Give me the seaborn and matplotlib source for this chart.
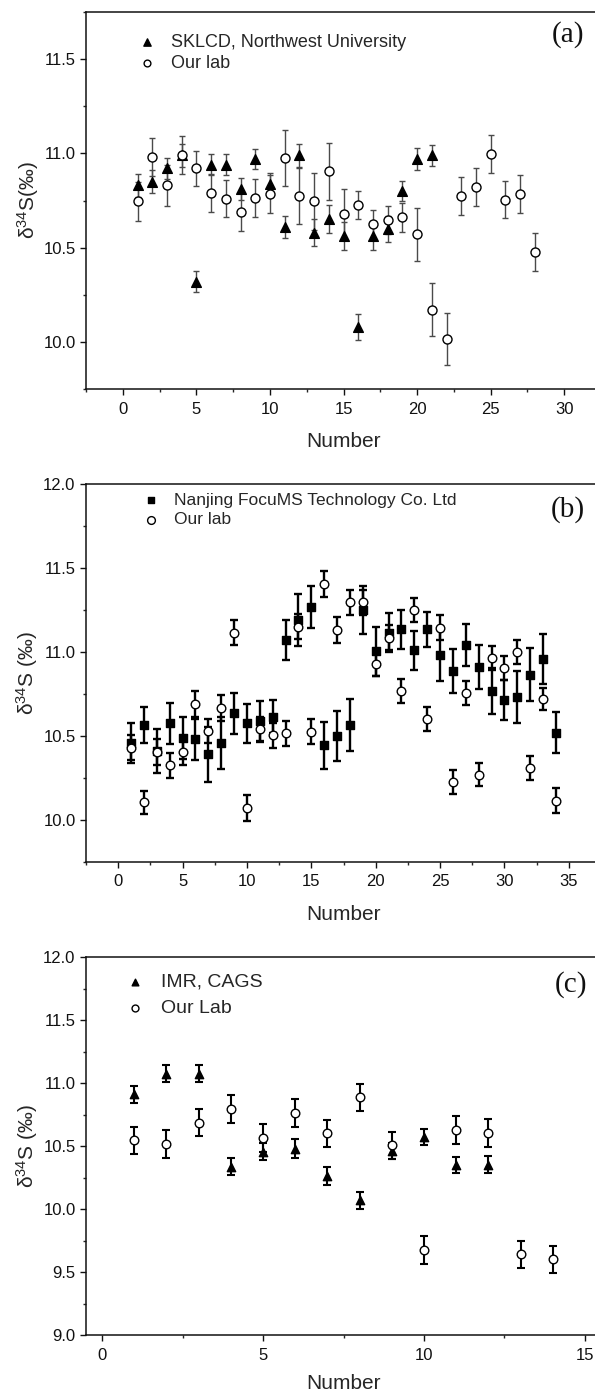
import matplotlib
matplotlib.use("Agg")
import matplotlib.pyplot as plt
import seaborn as sns
from matplotlib.ticker import MultipleLocator

# -----------------------------
# Data
# -----------------------------

# (a) SKLCD, Northwest University vs our lab
a_sk_num = list(range(1, 22))
a_sk_val = [10.83, 10.85, 10.92, 10.99, 10.32, 10.94, 10.94, 10.81, 10.97, 10.84, 10.61,
            10.99, 10.58, 10.65, 10.56, 10.08, 10.56, 10.60, 10.80, 10.97, 10.99]
a_sk_err = [0.06, 0.06, 0.055, 0.06, 0.055, 0.055, 0.055, 0.057, 0.055, 0.057, 0.057,
            0.06, 0.07, 0.075, 0.075, 0.07, 0.07, 0.07, 0.055, 0.06, 0.057]
a_our_num = list(range(1, 29))
a_our_val = [10.745, 10.98, 10.83, 10.99, 10.92, 10.79, 10.76, 10.69, 10.765, 10.785,
             10.975, 10.775, 10.745, 10.905, 10.68, 10.725, 10.625, 10.645, 10.66, 10.57,
             10.17, 10.015, 10.775, 10.82, 10.995, 10.755, 10.785, 10.475]
a_our_err = [0.105, 0.1, 0.11, 0.1, 0.095, 0.1, 0.1, 0.1, 0.1, 0.1, 0.147, 0.15, 0.15, 0.15,
             0.13, 0.075, 0.075, 0.075, 0.075, 0.14, 0.14, 0.14, 0.1, 0.1, 0.1, 0.1, 0.1, 0.1]

# (b) Nanjing FocuMS Technology Co. Ltd vs our lab
b_nj_num = list(range(1, 35))
b_nj_val = [10.46, 10.565, 10.41, 10.575, 10.49, 10.48, 10.39, 10.46, 10.635, 10.575,
            10.59, 10.615, 11.07, 11.19, 11.27, 10.445, 10.50, 10.565, 11.25, 11.005,
            11.115, 11.135, 11.01, 11.135, 10.985, 10.885, 11.04, 10.91, 10.765, 10.715,
            10.73, 10.865, 10.96, 10.52]
b_nj_err = [0.12, 0.105, 0.13, 0.12, 0.125, 0.12, 0.165, 0.155, 0.123, 0.117, 0.117, 0.1,
            0.12, 0.155, 0.125, 0.14, 0.15, 0.153, 0.14, 0.145, 0.115, 0.115, 0.116, 0.103,
            0.155, 0.13, 0.125, 0.13, 0.137, 0.117, 0.155, 0.157, 0.15, 0.12]
b_our_num = list(range(1, 35))
b_our_val = [10.43, 10.105, 10.405, 10.325, 10.405, 10.69, 10.53, 10.665, 11.115, 10.07,
             10.54, 10.505, 10.515, 11.15, 10.525, 11.405, 11.13, 11.295, 11.295, 10.93,
             11.085, 10.77, 11.25, 10.60, 11.145, 10.225, 10.755, 10.27, 10.965, 10.905,
             11.0, 10.31, 10.72, 10.115]
b_our_err = [0.075, 0.07, 0.075, 0.075, 0.075, 0.075, 0.07, 0.077, 0.075, 0.077, 0.075,
             0.075, 0.075, 0.075, 0.075, 0.077, 0.077, 0.072, 0.075, 0.07, 0.075, 0.072,
             0.073, 0.072, 0.073, 0.073, 0.07, 0.07, 0.073, 0.073, 0.07, 0.073, 0.067, 0.073]

# (c) IMR, CAGS vs our lab
c_imr_num = list(range(1, 13))
c_imr_val = [10.91, 11.075, 11.075, 10.335, 10.455, 10.48, 10.26, 10.07, 10.46, 10.57,
             10.35, 10.35]
c_imr_err = [0.068, 0.068, 0.068, 0.068, 0.065, 0.075, 0.07, 0.068, 0.06, 0.066, 0.062, 0.068]
c_our_num = list(range(1, 15))
c_our_val = [10.545, 10.515, 10.685, 10.795, 10.565, 10.76, 10.60, 10.885, 10.505, 9.675,
             10.625, 10.605, 9.64, 9.60]
c_our_err = [0.108, 0.11, 0.108, 0.11, 0.11, 0.11, 0.11, 0.11, 0.11, 0.11, 0.11, 0.11,
             0.11, 0.11]

# -----------------------------
# Style
# -----------------------------
sns.set_theme(style="ticks")
plt.rcParams["font.family"] = ["Liberation Sans", "DejaVu Sans"]
plt.rcParams["mathtext.default"] = "regular"
plt.rcParams["axes.linewidth"] = 1.1

W, H = 595, 1394
fig = plt.figure(figsize=(W / 100, H / 100), dpi=100)


def px_axes(left, top, right, bottom):
    return fig.add_axes([left / W, 1 - bottom / H, (right - left) / W, (bottom - top) / H])


def style_axes(ax, xlim, ylim, xmajor, ymajor, ylabel, xpad=11):
    ax.set_xlim(*xlim)
    ax.set_ylim(*ylim)
    ax.xaxis.set_major_locator(MultipleLocator(xmajor))
    ax.xaxis.set_minor_locator(MultipleLocator(xmajor / 2))
    ax.yaxis.set_major_locator(MultipleLocator(ymajor))
    ax.yaxis.set_minor_locator(MultipleLocator(ymajor / 2))
    ax.tick_params(which="major", length=4.5, width=1.0, labelsize=12, pad=3,
                   colors="#111111", direction="out")
    ax.tick_params(which="minor", length=2.5, width=1.0, direction="out")
    ax.tick_params(axis="x", which="major", pad=4.5)
    ax.tick_params(top=False, right=False, which="both")
    ax.yaxis.set_major_formatter(matplotlib.ticker.FormatStrFormatter("%.1f"))
    for s in ax.spines.values():
        s.set_color("#111111")
    ax.set_xlabel("Number", fontsize=15, labelpad=xpad)
    ax.set_ylabel(ylabel, fontsize=15, labelpad=2)


def draw_series(ax, num, val, err, marker, filled, ms, ecolor, elw, cap, label):
    ax.errorbar(num, val, yerr=err, fmt="none", ecolor=ecolor, elinewidth=elw,
                capsize=cap, capthick=elw, zorder=2)
    sns.scatterplot(x=num, y=val, marker=marker, s=ms ** 2,
                    color="black" if filled else "white", edgecolor="black",
                    linewidth=1.0, label=label, ax=ax, zorder=3)


# -----------------------------
# Panel (a)
# -----------------------------
ax_a = px_axes(86, 12, 601, 389)
draw_series(ax_a, a_sk_num, a_sk_val, a_sk_err, "^", True, 7, "#4a4a4a", 1.0, 2.2,
            "SKLCD, Northwest University")
draw_series(ax_a, a_our_num, a_our_val, a_our_err, "o", False, 6.5, "#4a4a4a", 1.0, 2.2,
            "Our lab")
style_axes(ax_a, (-2.5, 32.5), (9.75, 11.75), 5, 0.5, r"δ$^{34}$S(‰)")
ax_a.legend(loc="upper left", bbox_to_anchor=(0.0835, 0.966), frameon=False, fontsize=13,
            borderpad=0, handlelength=1.0, handletextpad=0.8, labelspacing=0.22,
            markerscale=0.75)

# -----------------------------
# Panel (b)
# -----------------------------
ax_b = px_axes(86, 484, 601, 862)
draw_series(ax_b, b_nj_num, b_nj_val, b_nj_err, "s", True, 5.2, "black", 1.7, 2.8,
            "Nanjing FocuMS Technology Co. Ltd")
draw_series(ax_b, b_our_num, b_our_val, b_our_err, "o", False, 6.2, "black", 1.7, 2.8,
            "Our lab")
style_axes(ax_b, (-2.5, 37.5), (9.75, 12.0), 5, 0.5, r"δ$^{34}$S (‰)")
ax_b.legend(loc="upper left", bbox_to_anchor=(0.0926, 1.0), frameon=False, fontsize=12.5,
            borderpad=0, handlelength=1.0, handletextpad=0.8, labelspacing=0.25,
            markerscale=0.9)

# -----------------------------
# Panel (c)
# -----------------------------
ax_c = px_axes(86, 957, 601, 1335)
draw_series(ax_c, c_imr_num, c_imr_val, c_imr_err, "^", True, 6, "black", 1.5, 2.6,
            "IMR, CAGS")
draw_series(ax_c, c_our_num, c_our_val, c_our_err, "o", False, 6.2, "black", 1.5, 2.6,
            "Our Lab")
style_axes(ax_c, (-0.5, 15.5), (9.0, 12.0), 5, 0.5, r"δ$^{34}$S (‰)", xpad=8)
ax_c.legend(loc="upper left", bbox_to_anchor=(0.058, 0.983), frameon=False, fontsize=14,
            borderpad=0, handlelength=1.0, handletextpad=0.8, labelspacing=0.45,
            markerscale=0.8)

# panel letters
for txt, x, y in [("(a)", 568, 35), ("(b)", 568, 510), ("(c)", 571, 985)]:
    fig.text(x / W, 1 - y / H, txt, ha="center", va="center", fontsize=21,
             family=["Liberation Serif", "DejaVu Serif"], color="#111111")

fig.savefig("out.png", dpi=100)
